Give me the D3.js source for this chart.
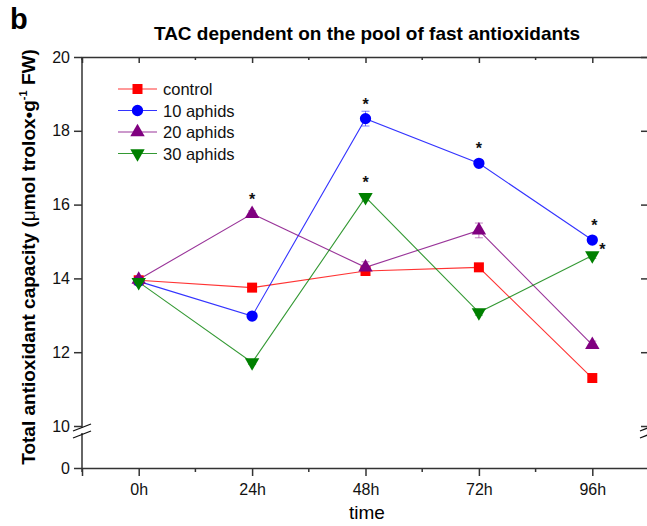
<!DOCTYPE html>
<html>
<head>
<meta charset="utf-8">
<script src="https://cdn.jsdelivr.net/npm/d3@7"></script>
<style>
  body { margin: 0; background: #fff; }
  svg { display: block; font-family: 'Liberation Sans', Arial, sans-serif; }
  .axis path, .axis line { stroke: #333; stroke-width: 1.5; }
  .axis text { font-size: 16px; fill: #111; font-family: 'Liberation Sans', Arial, sans-serif; }
</style>
</head>
<body>
<svg id="chart"></svg>
<script>
const WIDTH = 647;
const HEIGHT = 526;

const times = ['0h', '24h', '48h', '72h', '96h'];
const seriesNames = ['control', '10 aphids', '20 aphids', '30 aphids'];

const control = [13.95, 13.75, 14.2, 14.3, 11.3];
const aphids10 = [13.92, 12.98, 18.33, 17.12, 15.04];
const aphids20 = [13.97, 15.75, 14.3, 15.3, 12.2];
const aphids30 = [13.9, 11.72, 16.2, 13.08, 14.62];

const controlErr = [0.05, 0.05, 0.08, 0.08, 0.06];
const aphids10Err = [0.05, 0.05, 0.2, 0.08, 0.08];
const aphids20Err = [0.08, 0.08, 0.15, 0.2, 0.1];
const aphids30Err = [0.05, 0.05, 0.1, 0.08, 0.08];

// 1 = marked with an asterisk
const controlStars = [0, 0, 0, 0, 0];
const aphids10Stars = [0, 0, 1, 1, 1];
const aphids20Stars = [0, 1, 0, 0, 0];
const aphids30Stars = [0, 0, 1, 0, 1];

const yTicksUpper = [10, 12, 14, 16, 18, 20];
const yTicksLower = [0];

const COLORS = ['#ff0000', '#0000ff', '#800080', '#008000'];
const SYMBOLS = [
  { type: d3.symbolSquare, size: 100, rotate: 0 },
  { type: d3.symbolCircle, size: 100, rotate: 0 },
  { type: d3.symbolTriangle, size: 90, rotate: 0 },
  { type: d3.symbolTriangle, size: 90, rotate: 180 },
];

const series = [
  { name: seriesNames[0], values: control, err: controlErr, stars: controlStars },
  { name: seriesNames[1], values: aphids10, err: aphids10Err, stars: aphids10Stars },
  { name: seriesNames[2], values: aphids20, err: aphids20Err, stars: aphids20Stars },
  { name: seriesNames[3], values: aphids30, err: aphids30Err, stars: aphids30Stars },
].map((s, i) => Object.assign({ color: COLORS[i], symbol: SYMBOLS[i] }, s));

const LEFT = 82, RIGHT = 649, TOP = 57, BOTTOM = 468;

const svg = d3.select('#chart').attr('width', WIDTH).attr('height', HEIGHT);

const x = d3.scaleLinear().domain([-0.5, 4.5]).range([LEFT, RIGHT]);
const yUp = d3.scaleLinear().domain([10, 20]).range([426, TOP]);
const yLow = d3.scaleLinear().domain([0, 10]).range([BOTTOM, 430]);
const y = v => (v >= 10 ? yUp(v) : yLow(v));

const majorX = d3.range(times.length);
const minorX = d3.range(-0.5, 4.6, 1);

// bottom axis
const bottomAxis = svg.append('g').attr('class', 'axis')
  .attr('transform', `translate(0,${BOTTOM})`)
  .call(d3.axisBottom(x).tickValues(majorX).tickSize(8).tickPadding(8)
    .tickFormat(i => times[i]));
bottomAxis.append('g').selectAll('line').data(minorX).enter().append('line')
  .attr('x1', d => x(d)).attr('x2', d => x(d)).attr('y1', 0).attr('y2', 4);

// top axis
const topAxis = svg.append('g').attr('class', 'axis')
  .attr('transform', `translate(0,${TOP})`)
  .call(d3.axisTop(x).tickValues(majorX).tickSize(-6).tickFormat(''));
topAxis.append('g').selectAll('line').data(minorX).enter().append('line')
  .attr('x1', d => x(d)).attr('x2', d => x(d)).attr('y1', 0).attr('y2', 3);

// left axis (broken)
const leftAxis = svg.append('g').attr('class', 'axis')
  .attr('transform', `translate(${LEFT},0)`);
leftAxis.append('g').call(d3.axisLeft(yUp).tickValues(yTicksUpper).tickSize(8).tickPadding(4))
  .select('.domain').remove();
leftAxis.append('g').call(d3.axisLeft(yLow).tickValues(yTicksLower).tickSize(8).tickPadding(4))
  .select('.domain').remove();
leftAxis.append('line').attr('x1', 0).attr('x2', 0).attr('y1', TOP).attr('y2', 427.5);
leftAxis.append('line').attr('x1', 0).attr('x2', 0).attr('y1', 433).attr('y2', BOTTOM);

// right axis (broken)
const rightAxis = svg.append('g').attr('class', 'axis')
  .attr('transform', `translate(${RIGHT},0)`);
rightAxis.append('g').call(d3.axisRight(yUp).tickValues(yTicksUpper).tickSize(-8).tickFormat(''))
  .select('.domain').remove();
rightAxis.append('line').attr('x1', 0).attr('x2', 0).attr('y1', TOP).attr('y2', 427.5);
rightAxis.append('line').attr('x1', 0).attr('x2', 0).attr('y1', 433).attr('y2', BOTTOM);

// break marks
[LEFT, RIGHT].forEach(cx => {
  [0, 7].forEach(dy => {
    svg.append('line')
      .attr('x1', cx - 9).attr('y1', 431 + dy)
      .attr('x2', cx + 9).attr('y2', 424 + dy)
      .attr('stroke', '#111').attr('stroke-width', 1.3);
  });
});

// lines
const line = d3.line().x((d, i) => x(i)).y(d => y(d));
svg.append('g').selectAll('path').data(series).enter().append('path')
  .attr('d', d => line(d.values))
  .attr('fill', 'none')
  .attr('stroke', d => d.color)
  .attr('stroke-width', 1.1)
  .attr('stroke-opacity', 0.8);

// error bars
series.forEach(s => {
  const g = svg.append('g').attr('stroke', s.color).attr('stroke-opacity', 0.5).attr('stroke-width', 1);
  s.values.forEach((v, i) => {
    const cx = x(i), y0 = y(v - s.err[i]), y1 = y(v + s.err[i]);
    g.append('line').attr('x1', cx).attr('x2', cx).attr('y1', y0).attr('y2', y1);
    g.append('line').attr('x1', cx - 4).attr('x2', cx + 4).attr('y1', y0).attr('y2', y0);
    g.append('line').attr('x1', cx - 4).attr('x2', cx + 4).attr('y1', y1).attr('y2', y1);
  });
});

// markers
series.forEach(s => {
  const sym = d3.symbol().type(s.symbol.type).size(s.symbol.size);
  svg.append('g').selectAll('path').data(s.values).enter().append('path')
    .attr('d', sym)
    .attr('fill', s.color)
    .attr('transform', (d, i) => `translate(${x(i)},${y(d)}) rotate(${s.symbol.rotate})`);
});

// asterisks
series.forEach(s => {
  s.values.forEach((v, i) => {
    if (!s.stars[i]) return;
    const nudge = (s.name === '30 aphids' && i === 4) ? 10 : (i === 4 ? 2 : 0);
    const dy = (s.name === '30 aphids' && i === 4) ? -1 : -9;
    svg.append('text')
      .attr('x', x(i) + nudge).attr('y', y(v) + dy)
      .attr('text-anchor', 'middle')
      .attr('font-size', 16).attr('font-weight', 'bold')
      .attr('fill', '#111')
      .text('*');
  });
});

// legend
const legend = svg.append('g').attr('transform', 'translate(118,89)');
const rows = legend.selectAll('g').data(series).enter().append('g')
  .attr('transform', (d, i) => `translate(0,${i * 21.5})`);
rows.append('line').attr('x1', 0).attr('x2', 39).attr('y1', 0).attr('y2', 0)
  .attr('stroke', d => d.color).attr('stroke-width', 1.1).attr('stroke-opacity', 0.8);
rows.append('path')
  .attr('d', d => d3.symbol().type(d.symbol.type).size(d.symbol.size)())
  .attr('fill', d => d.color)
  .attr('transform', d => `translate(19.5,0) rotate(${d.symbol.rotate})`);
rows.append('text').attr('x', 45).attr('y', 6)
  .attr('font-size', 16.5).attr('fill', '#111')
  .text(d => d.name);

// titles
svg.append('text').attr('x', 10).attr('y', 29)
  .attr('font-size', 29).attr('font-weight', 'bold').text('b');
svg.append('text').attr('x', 367).attr('y', 40)
  .attr('text-anchor', 'middle').attr('font-size', 19).attr('font-weight', 'bold')
  .text('TAC dependent on the pool of fast antioxidants');
svg.append('text').attr('x', 367).attr('y', 519)
  .attr('text-anchor', 'middle').attr('font-size', 19).text('time');

const ylab = svg.append('text')
  .attr('transform', 'translate(35,257) rotate(-90)')
  .attr('text-anchor', 'middle').attr('font-size', 19).attr('font-weight', 'bold');
ylab.append('tspan').text('Total antioxidant capacity (');
ylab.append('tspan').attr('font-weight', 'normal').text('μ');
ylab.append('tspan').text('mol trolox•g');
ylab.append('tspan').attr('font-size', 11).attr('dy', -8).text('-1');
ylab.append('tspan').attr('dy', 8).text(' FW)');
</script>
</body>
</html>
